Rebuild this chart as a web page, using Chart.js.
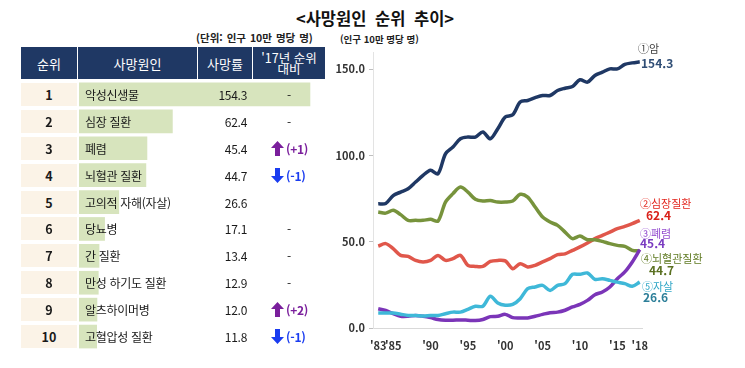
<!DOCTYPE html>
<html lang="ko">
<head>
<meta charset="utf-8">
<script src="https://cdn.jsdelivr.net/npm/chart.js@4.4.1/dist/chart.umd.min.js"></script>
<style>
  body { margin:0; width:745px; height:368px; background:#fff; position:relative; overflow:hidden;
         font-family:"Noto Sans CJK KR","Noto Sans",sans-serif; color:#1a1a1a; }
  .abs { position:absolute; white-space:nowrap; }
  #title { left:0; width:750px; top:6px; text-align:center; font-size:16.5px; font-weight:bold; word-spacing:4px; color:#111; }
  #unitL { left:196px; top:30px; font-size:10.5px; font-weight:bold; word-spacing:1px; color:#222; }
  #unitR { left:340px; top:32px; font-size:9.5px; font-weight:bold; color:#222; }
  .hd { position:absolute; top:47px; height:32px; background:#1f3864; color:#fff; font-size:13px;
        display:flex; align-items:center; justify-content:center; text-align:center; }
  .rank { position:absolute; left:21px; width:56px; height:23px; background:#fbf3e7; font-weight:bold;
          font-size:12.5px; display:flex; align-items:center; justify-content:center; }
  .cell { position:absolute; font-size:12px; line-height:23px; height:23px; letter-spacing:-0.3px; }
  .lbl { position:absolute; white-space:nowrap; font-size:11px; line-height:12px; }
  .val { position:absolute; white-space:nowrap; font-size:12px; font-weight:bold; line-height:12px; }
</style>
</head>
<body>
<div id="title" class="abs">&lt;사망원인 순위 추이&gt;</div>
<div id="unitL" class="abs">(단위: 인구 10만 명당 명)</div>
<div id="unitR" class="abs">(인구 10만 명당 명)</div>

<div class="hd" style="left:21px;width:56px">순위</div>
<div class="hd" style="left:78px;width:119px">사망원인</div>
<div class="hd" style="left:198px;width:54px">사망률</div>
<div class="hd" style="left:253px;width:72px;line-height:11px;font-size:12.5px">'17년 순위<br>대비</div>

<canvas id="barChart" width="260" height="269" style="position:absolute;left:79px;top:81px"></canvas>
<div id="rows"></div>

<canvas id="lineChart" width="415" height="338" style="position:absolute;left:330px;top:30px"></canvas>

<div class="lbl" style="left:638px;top:42px;color:#404040">①암</div>
<div class="val" style="left:641px;top:57px;color:#2f4d75">154.3</div>
<div class="lbl" style="left:640px;top:197px;color:#e3261e">②심장질환</div>
<div class="val" style="left:646px;top:209px;color:#d9211a">62.4</div>
<div class="lbl" style="left:640px;top:227px;color:#9650d0">③폐렴</div>
<div class="val" style="left:640px;top:237px;color:#7a3bc0">45.4</div>
<div class="lbl" style="left:641px;top:252px;color:#5f7a22">④뇌혈관질환</div>
<div class="val" style="left:649px;top:264px;color:#5a7020">44.7</div>
<div class="lbl" style="left:642px;top:280px;color:#2fa6c6">⑤자살</div>
<div class="val" style="left:643px;top:291px;color:#2d7f99">26.6</div>

<script>
// 사망원인 순위 (2018)
const ranks   = [1, 2, 3, 4, 5, 6, 7, 8, 9, 10];
const causes  = ['악성신생물', '심장 질환', '폐렴', '뇌혈관 질환', '고의적 자해(자살)', '당뇨병', '간 질환', '만성 하기도 질환', '알츠하이머병', '고혈압성 질환'];
const rates   = [154.3, 62.4, 45.4, 44.7, 26.6, 17.1, 13.4, 12.9, 12.0, 11.8];
const changes = ['-', '-', '+1', '-1', '', '-', '-', '-', '+2', '-1'];

// 추이 1983~2018
const years = [1983, 1984, 1985, 1986, 1987, 1988, 1989, 1990, 1991, 1992, 1993, 1994,
               1995, 1996, 1997, 1998, 1999, 2000, 2001, 2002, 2003, 2004, 2005, 2006,
               2007, 2008, 2009, 2010, 2011, 2012, 2013, 2014, 2015, 2016, 2017, 2018];
const cancer    = [72.0, 72.2, 76.8, 78.8, 80.7, 84.6, 88.5, 91.4, 89.4, 101.0, 104.9, 109.7,
                   110.7, 110.7, 113.6, 109.7, 115.5, 122.3, 123.6, 131.0, 131.9, 133.5, 134.8, 134.8,
                   137.7, 139.0, 140.0, 143.9, 142.5, 146.4, 148.3, 150.2, 150.2, 152.8, 153.7, 154.3];
const heart     = [47.5, 48.9, 46.0, 42.1, 41.5, 39.2, 38.3, 39.2, 42.1, 39.2, 40.2, 42.1,
                   36.3, 35.7, 35.7, 38.6, 39.2, 38.9, 34.4, 37.3, 35.4, 36.3, 38.3, 40.2,
                   42.5, 43.0, 45.0, 47.0, 49.3, 51.8, 53.7, 55.6, 57.6, 58.9, 60.5, 62.4];
const cerebro   = [67.2, 66.6, 68.2, 65.7, 62.4, 62.4, 62.4, 63.0, 62.0, 73.0, 77.9, 81.7,
                   78.8, 74.6, 73.6, 73.9, 73.0, 73.0, 73.6, 77.5, 75.9, 70.1, 64.3, 61.4,
                   59.5, 55.6, 51.8, 53.3, 51.2, 51.2, 50.2, 48.9, 47.9, 47.3, 45.0, 44.7];
const pneumonia = [11.2, 10.2, 8.3, 6.8, 6.8, 7.3, 6.8, 6.0, 4.9, 4.5, 4.5, 4.7,
                   4.5, 4.3, 4.9, 6.6, 6.8, 7.9, 6.0, 5.8, 5.8, 6.8, 7.9, 8.9,
                   9.2, 10.3, 12.2, 13.7, 16.0, 19.3, 20.9, 23.8, 28.6, 32.5, 38.3, 45.4];
const suicide   = [8.7, 8.7, 8.7, 8.0, 7.3, 7.3, 7.0, 7.3, 7.3, 8.3, 9.2, 9.2,
                   10.8, 12.6, 12.6, 18.4, 14.5, 13.2, 13.7, 17.0, 22.8, 23.8, 24.7, 21.8,
                   24.7, 25.7, 31.1, 31.1, 31.9, 28.2, 28.6, 27.6, 26.6, 25.7, 24.2, 26.6];
const xTicks = [1983, 1985, 1990, 1995, 2000, 2005, 2010, 2015, 2018];
const yTicks = [0, 50, 100, 150];

// table text
const rowsEl = document.getElementById('rows');
const pitch = 26.9, top0 = 81;
const upSvg = c => `<svg width="13" height="15" viewBox="0 0 13 15"><path d="M6.5 0 L13 7 L9 7 L9 15 L4 15 L4 7 L0 7 Z" fill="${c}"/></svg>`;
const downSvg = c => `<svg width="13" height="15" viewBox="0 0 13 15"><path d="M6.5 15 L13 8 L9 8 L9 0 L4 0 L4 8 L0 8 Z" fill="${c}"/></svg>`;
ranks.forEach((r, i) => {
  const y = top0 + i * pitch + pitch / 2 - 11.5;
  let html = `<div class="rank" style="top:${y}px">${r}</div>`;
  html += `<div class="cell" style="left:85px;top:${y}px">${causes[i]}</div>`;
  html += `<div class="cell" style="left:198px;width:49px;text-align:right;top:${y}px">${rates[i].toFixed(1)}</div>`;
  const ch = changes[i];
  if (ch === '-') {
    html += `<div class="cell" style="left:253px;width:72px;text-align:center;top:${y}px">-</div>`;
  } else if (ch) {
    const up = ch[0] === '+';
    const col = up ? '#7a1f9c' : '#1a3cf0';
    html += `<div class="cell" style="left:271px;top:${y + 4}px;line-height:15px;height:15px">${up ? upSvg(col) : downSvg(col)}</div>`;
    html += `<div class="cell" style="left:286px;top:${y}px;font-weight:bold;color:${col}">(${ch})</div>`;
  }
  rowsEl.insertAdjacentHTML('beforeend', html);
});

// green bars behind the cause names
new Chart(document.getElementById('barChart'), {
  type: 'bar',
  data: { labels: causes, datasets: [{ data: rates, backgroundColor: '#d7e4bd', barThickness: 23 }] },
  options: {
    indexAxis: 'y', responsive: false, animation: false,
    layout: { padding: 0 },
    plugins: { legend: { display: false }, tooltip: { enabled: false } },
    scales: {
      x: { display: false, min: 0, max: 173.7 },
      y: { display: false }
    }
  }
});

const mk = (arr, color) => ({
  data: years.map((y, i) => ({ x: y, y: arr[i] })),
  borderColor: color, borderWidth: 3.5, pointRadius: 0, tension: 0.3, fill: false
});

new Chart(document.getElementById('lineChart'), {
  type: 'line',
  data: { datasets: [
    mk(suicide, '#3fb8d8'),
    mk(pneumonia, '#7b35b8'),
    mk(cerebro, '#77933c'),
    mk(heart, '#e0574b'),
    mk(cancer, '#1f3864')
  ] },
  options: {
    responsive: false, animation: false,
    layout: { padding: { top: 22, right: 103, left: 0, bottom: 0 } },
    plugins: { legend: { display: false }, tooltip: { enabled: false } },
    scales: {
      x: {
        type: 'linear', min: 1982.3, max: 2018.3,
        afterBuildTicks: s => { s.ticks = xTicks.map(v => ({ value: v })); },
        afterFit: s => { s.height = 40; },
        grid: { display: false, drawTicks: false },
        border: { display: true, color: '#d9d9d9', width: 1 },
        ticks: { autoSkip: false, maxRotation: 0, padding: 11, color: '#333',
                 font: { family: 'Noto Sans CJK KR', size: 11, weight: 'bold' },
                 callback: v => "'" + String(v).slice(2) }
      },
      y: {
        min: 0, max: 160,
        afterBuildTicks: s => { s.ticks = yTicks.map(v => ({ value: v })); },
        afterFit: s => { s.width = 43; },
        grid: { drawOnChartArea: false, drawTicks: true, tickLength: 4, color: '#bfbfbf' },
        border: { display: true, color: '#e3e3e3', width: 1 },
        ticks: { padding: 4, color: '#333',
                 font: { family: 'Noto Sans CJK KR', size: 11, weight: 'bold' },
                 callback: v => Number(v).toFixed(1) }
      }
    }
  }
});
</script>
</body>
</html>
